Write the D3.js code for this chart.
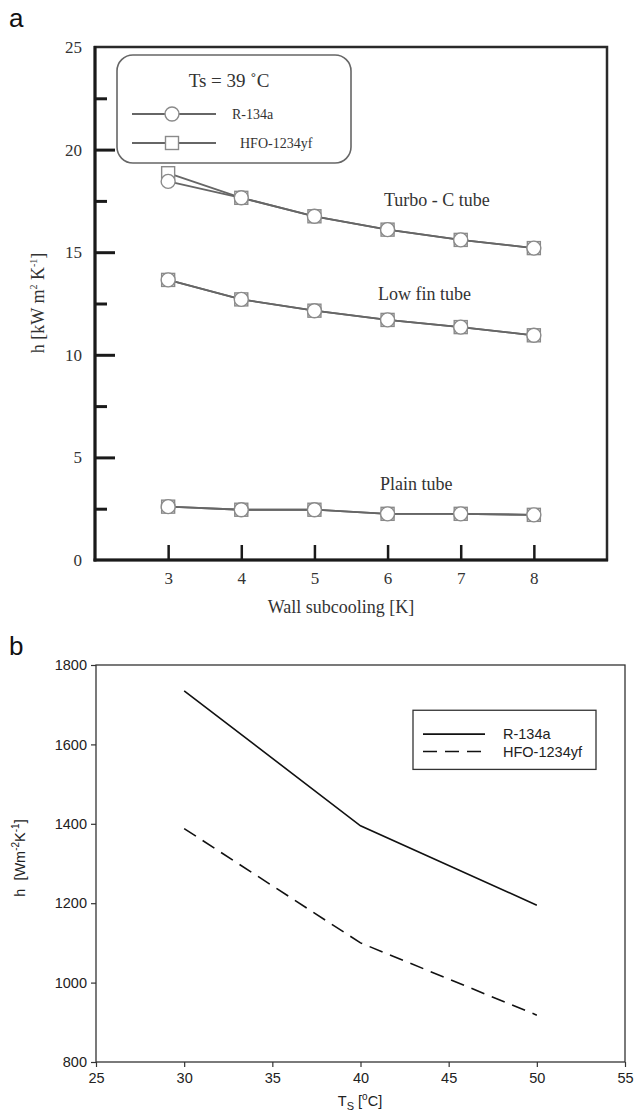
<!DOCTYPE html>
<html>
<head>
<meta charset="utf-8">
<script src="https://cdn.jsdelivr.net/npm/d3@7"></script>
<style>
  body { margin: 0; background: #fff; }
  svg { display: block; }
</style>
</head>
<body>
<div id="chart"></div>
<script>
// ---- data, panel a ----
const subcooling = [3, 4, 5, 6, 7, 8];
const turboR134a = [18.45, 17.65, 16.75, 16.1, 15.6, 15.2];
const turboHFO = [18.85, 17.65, 16.75, 16.1, 15.6, 15.2];
const lowfinR134a = [13.65, 12.7, 12.15, 11.7, 11.35, 10.95];
const lowfinHFO = [13.65, 12.7, 12.15, 11.7, 11.35, 10.95];
const plainR134a = [2.6, 2.45, 2.45, 2.25, 2.25, 2.2];
const plainHFO = [2.6, 2.45, 2.45, 2.25, 2.25, 2.2];
const aMajorTicks = [0, 5, 10, 15, 20, 25];
const aMinorTicks = [2.5, 7.5, 12.5, 17.5, 22.5];

// ---- data, panel b ----
const satTemp = [30, 40, 50];
const bR134a = [1735, 1395, 1195];
const bHFO = [1388, 1100, 918];
const bXTicks = [25, 30, 35, 40, 45, 50, 55];
const bYTicks = [800, 1000, 1200, 1400, 1600, 1800];

const W = 635, H = 1115;
const svg = d3.select("#chart").append("svg")
    .attr("width", W)
    .attr("height", H);

const serif = "'Liberation Serif', 'Times New Roman', serif";
const sans = "'Liberation Sans', Arial, sans-serif";
const intFmt = d3.format("d");

// panel letters
svg.append("text").attr("x", 9).attr("y", 27)
    .attr("font-family", sans).attr("font-size", 26).attr("fill", "#111").text("a");
svg.append("text").attr("x", 9).attr("y", 655)
    .attr("font-family", sans).attr("font-size", 26).attr("fill", "#111").text("b");

// ================= panel a =================
const ax = d3.scaleLinear().domain([2, 9]).range([95, 607]);
const ay = d3.scaleLinear().domain([0, 25]).range([560, 47]);

const ga = svg.append("g");

// frame
ga.append("rect")
    .attr("x", ax(2)).attr("y", ay(25))
    .attr("width", ax(9) - ax(2)).attr("height", ay(0) - ay(25))
    .attr("fill", "none").attr("stroke", "#2a2a2a").attr("stroke-width", 2.5);
ga.append("line")
    .attr("x1", ax(2)).attr("x2", ax(2)).attr("y1", ay(25) - 1).attr("y2", ay(0) + 1.5)
    .attr("stroke", "#1a1a1a").attr("stroke-width", 3);
ga.append("line")
    .attr("x1", ax(2) - 1.5).attr("x2", ax(9) + 1).attr("y1", ay(0)).attr("y2", ay(0))
    .attr("stroke", "#1a1a1a").attr("stroke-width", 3);

// y axis (ticks inward)
const aYAxis = ga.append("g")
    .attr("transform", `translate(${ax(2)},0)`)
    .call(d3.axisLeft(ay).tickValues(aMajorTicks).tickFormat(intFmt).tickSize(-20).tickPadding(13));
aYAxis.select(".domain").remove();
aYAxis.selectAll(".tick line").attr("stroke", "#1a1a1a").attr("stroke-width", 3)
    .filter(d => d === 0 || d === 25).remove();
aYAxis.selectAll("text").attr("font-family", serif).attr("font-size", 17).attr("fill", "#333");

const aYMinor = ga.append("g")
    .attr("transform", `translate(${ax(2)},0)`)
    .call(d3.axisLeft(ay).tickValues(aMinorTicks).tickSize(-12).tickFormat(""));
aYMinor.select(".domain").remove();
aYMinor.selectAll(".tick line").attr("stroke", "#1a1a1a").attr("stroke-width", 3);

// x axis (ticks upward)
const aXAxis = ga.append("g")
    .attr("transform", `translate(0,${ay(0)})`)
    .call(d3.axisBottom(ax).tickValues(subcooling).tickFormat(intFmt).tickSize(-15).tickPadding(12));
aXAxis.select(".domain").remove();
aXAxis.selectAll(".tick line").attr("stroke", "#1a1a1a").attr("stroke-width", 2.5);
aXAxis.selectAll("text").attr("font-family", serif).attr("font-size", 17).attr("fill", "#333");

ga.append("text")
    .attr("x", (ax(2) + ax(9)) / 2 - 10).attr("y", 613)
    .attr("text-anchor", "middle")
    .attr("font-family", serif).attr("font-size", 18).attr("fill", "#333")
    .text("Wall subcooling [K]");

const aYLabel = ga.append("text")
    .attr("transform", "translate(44,303) rotate(-90)")
    .attr("text-anchor", "middle")
    .attr("font-family", serif).attr("font-size", 18).attr("fill", "#333");
aYLabel.append("tspan").text("h [kW m");
aYLabel.append("tspan").attr("font-size", 10).attr("dy", -7).text("2");
aYLabel.append("tspan").attr("dy", 7).text(" K");
aYLabel.append("tspan").attr("font-size", 10).attr("dy", -7).text("-1");
aYLabel.append("tspan").attr("dy", 7).text("]");

// series
const lineA = (vals) => d3.line()
    .x((d, i) => ax(subcooling[i]))
    .y(d => ay(d))(vals);

const aSeries = [
    { vals: turboHFO, marker: "square" },
    { vals: turboR134a, marker: "circle" },
    { vals: lowfinHFO, marker: "square" },
    { vals: lowfinR134a, marker: "circle" },
    { vals: plainHFO, marker: "square" },
    { vals: plainR134a, marker: "circle" }
];

aSeries.forEach(s => {
    ga.append("path")
        .attr("d", lineA(s.vals))
        .attr("fill", "none").attr("stroke", "#666").attr("stroke-width", 1.8);
});
aSeries.forEach(s => {
    const pts = ga.append("g").selectAll(null).data(s.vals).enter();
    if (s.marker === "square") {
        pts.append("rect")
            .attr("x", (d, i) => ax(subcooling[i]) - 6.5)
            .attr("y", d => ay(d) - 6.5)
            .attr("width", 13).attr("height", 13)
            .attr("fill", "#fff").attr("stroke", "#8a8a8a").attr("stroke-width", 1.4);
    } else {
        pts.append("circle")
            .attr("cx", (d, i) => ax(subcooling[i]))
            .attr("cy", d => ay(d))
            .attr("r", 7)
            .attr("fill", "#fff").attr("stroke", "#8a8a8a").attr("stroke-width", 1.4);
    }
});

// tube labels
[["Turbo - C tube", 384, 206], ["Low fin tube", 378, 300], ["Plain tube", 380, 490]].forEach(t => {
    ga.append("text").attr("x", t[1]).attr("y", t[2])
        .attr("font-family", serif).attr("font-size", 18).attr("fill", "#333")
        .text(t[0]);
});

// legend a
const la = ga.append("g");
la.append("rect")
    .attr("x", 117).attr("y", 55).attr("width", 234).attr("height", 108)
    .attr("rx", 16).attr("ry", 16)
    .attr("fill", "#fff").attr("stroke", "#666").attr("stroke-width", 1.6);
la.append("text").attr("x", 229).attr("y", 87)
    .attr("text-anchor", "middle")
    .attr("font-family", serif).attr("font-size", 19).attr("fill", "#333")
    .text("Ts = 39 ˚C");
la.append("line").attr("x1", 132).attr("x2", 216).attr("y1", 114).attr("y2", 114)
    .attr("stroke", "#666").attr("stroke-width", 2);
la.append("circle").attr("cx", 172).attr("cy", 114).attr("r", 7)
    .attr("fill", "#fff").attr("stroke", "#8a8a8a").attr("stroke-width", 1.4);
la.append("text").attr("x", 232).attr("y", 119)
    .attr("font-family", serif).attr("font-size", 14).attr("fill", "#333").text("R-134a");
la.append("line").attr("x1", 132).attr("x2", 216).attr("y1", 143).attr("y2", 143)
    .attr("stroke", "#666").attr("stroke-width", 2);
la.append("rect").attr("x", 165.5).attr("y", 136.5).attr("width", 13).attr("height", 13)
    .attr("fill", "#fff").attr("stroke", "#8a8a8a").attr("stroke-width", 1.4);
la.append("text").attr("x", 240).attr("y", 148)
    .attr("font-family", serif).attr("font-size", 14).attr("fill", "#333").text("HFO-1234yf");

// ================= panel b =================
const bx = d3.scaleLinear().domain([25, 55]).range([96, 625]);
const by = d3.scaleLinear().domain([800, 1800]).range([1062, 665]);

const gb = svg.append("g");

gb.append("rect")
    .attr("x", bx(25)).attr("y", by(1800))
    .attr("width", bx(55) - bx(25)).attr("height", by(800) - by(1800))
    .attr("fill", "none").attr("stroke", "#333").attr("stroke-width", 1.3);

const bYAxis = gb.append("g")
    .attr("transform", `translate(${bx(25)},0)`)
    .call(d3.axisLeft(by).tickValues(bYTicks).tickFormat(intFmt).tickSize(5).tickPadding(4));
bYAxis.select(".domain").remove();
bYAxis.selectAll(".tick line").attr("stroke", "#333").attr("stroke-width", 1.2);
bYAxis.selectAll("text").attr("font-family", sans).attr("font-size", 14.5).attr("fill", "#222");

const bXAxis = gb.append("g")
    .attr("transform", `translate(0,${by(800)})`)
    .call(d3.axisBottom(bx).tickValues(bXTicks).tickFormat(intFmt).tickSize(5).tickPadding(6));
bXAxis.select(".domain").remove();
bXAxis.selectAll(".tick line").attr("stroke", "#333").attr("stroke-width", 1.2);
bXAxis.selectAll("text").attr("font-family", sans).attr("font-size", 14.5).attr("fill", "#222");

const bXLabel = gb.append("text")
    .attr("x", 360).attr("y", 1106)
    .attr("text-anchor", "middle")
    .attr("font-family", sans).attr("font-size", 14.5).attr("fill", "#222");
bXLabel.append("tspan").text("T");
bXLabel.append("tspan").attr("font-size", 11).attr("dy", 4).text("S");
bXLabel.append("tspan").attr("dy", -4).text(" [");
bXLabel.append("tspan").attr("font-size", 10).attr("dy", -6).text("o");
bXLabel.append("tspan").attr("dy", 6).text("C]");

const bYLabel = gb.append("text")
    .attr("transform", "translate(25,858) rotate(-90)")
    .attr("text-anchor", "middle")
    .attr("font-family", sans).attr("font-size", 14.5).attr("fill", "#222")
    .attr("xml:space", "preserve");
bYLabel.append("tspan").text("h  [Wm");
bYLabel.append("tspan").attr("font-size", 10).attr("dy", -6).text("-2");
bYLabel.append("tspan").attr("dy", 6).text("K");
bYLabel.append("tspan").attr("font-size", 10).attr("dy", -6).text("-1");
bYLabel.append("tspan").attr("dy", 6).text("]");

const lineB = d3.line()
    .x((d, i) => bx(satTemp[i]))
    .y(d => by(d));

gb.append("path").attr("d", lineB(bR134a))
    .attr("fill", "none").attr("stroke", "#111").attr("stroke-width", 1.6);
gb.append("path").attr("d", lineB(bHFO))
    .attr("fill", "none").attr("stroke", "#111").attr("stroke-width", 1.6)
    .attr("stroke-dasharray", "14,8");

// legend b
const lb = gb.append("g");
lb.append("rect")
    .attr("x", 413).attr("y", by(1686))
    .attr("width", 183).attr("height", by(1537) - by(1686))
    .attr("fill", "#fff").attr("stroke", "#333").attr("stroke-width", 1.3);
lb.append("line").attr("x1", 423).attr("x2", 485).attr("y1", by(1626)).attr("y2", by(1626))
    .attr("stroke", "#111").attr("stroke-width", 1.6);
lb.append("text").attr("x", 503).attr("y", by(1626) + 5)
    .attr("font-family", sans).attr("font-size", 14.5).attr("fill", "#222").text("R-134a");
lb.append("line").attr("x1", 423).attr("x2", 485).attr("y1", by(1582)).attr("y2", by(1582))
    .attr("stroke", "#111").attr("stroke-width", 1.6).attr("stroke-dasharray", "14,8");
lb.append("text").attr("x", 503).attr("y", by(1582) + 5)
    .attr("font-family", sans).attr("font-size", 14.5).attr("fill", "#222").text("HFO-1234yf");
</script>
</body>
</html>
